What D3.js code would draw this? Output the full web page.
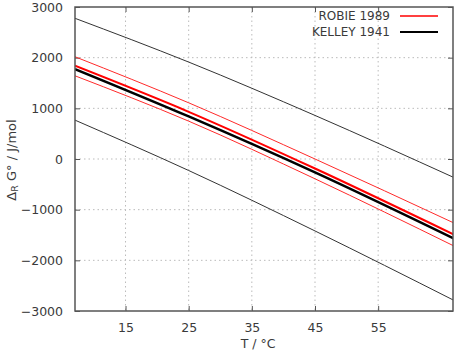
<!DOCTYPE html>
<html>
<head>
<meta charset="utf-8">
<script src="https://cdn.jsdelivr.net/npm/d3@7"></script>
<style>
  body { margin: 0; background: #fff; }
  text { font-family: "DejaVu Sans", sans-serif; fill: #3a3a3a; }
</style>
</head>
<body>
<div id="chart"></div>
<script>
// temperatures (°C) where values were read
var temps = [7, 25, 45, 67];

// ROBIE 1989: central value and its band
var robieMid   = [1840, 931, -188, -1492];
var robieUpper = [2018, 1109, 0, -1263];
var robieLower = [1642, 747, -391, -1717];

// KELLEY 1941: central value and its band
var kelleyMid   = [1775, 840, -265, -1571];
var kelleyUpper = [2777, 1913, 860, -366];
var kelleyLower = [767, -227, -1420, -2790];

var xTicks = [15, 25, 35, 45, 55];
var yTicks = [-3000, -2000, -1000, 0, 1000, 2000, 3000];

var W = 457, H = 353;
var margin = {top: 7, right: 4, bottom: 42, left: 75};
var w = W - margin.left - margin.right;
var h = H - margin.top - margin.bottom;

var svg = d3.select("#chart").append("svg")
    .attr("width", W)
    .attr("height", H);

var g = svg.append("g")
    .attr("transform", "translate(" + margin.left + "," + margin.top + ")");

var x = d3.scaleLinear().domain([7, 66.85]).range([0, w]);
var y = d3.scaleLinear().domain([-3000, 3000]).range([h, 0]);

// grid
g.selectAll(".hgrid").data(yTicks.slice(1, -1)).enter().append("line")
    .attr("x1", 0).attr("x2", w)
    .attr("y1", function(d) { return y(d); })
    .attr("y2", function(d) { return y(d); })
    .attr("stroke", "#bbb").attr("stroke-dasharray", "1.5,3");
g.selectAll(".vgrid").data(xTicks).enter().append("line")
    .attr("y1", 0).attr("y2", h)
    .attr("x1", function(d) { return x(d); })
    .attr("x2", function(d) { return x(d); })
    .attr("stroke", "#bbb").attr("stroke-dasharray", "1.5,3");

// axes, ticks drawn inward and mirrored
var yAxis = d3.axisLeft(y).tickValues(yTicks).tickSize(-5).tickPadding(12)
    .tickFormat(d3.format("d"));
var xAxis = d3.axisBottom(x).tickValues(xTicks).tickSize(-5).tickPadding(12)
    .tickFormat(d3.format("d"));

var ya = g.append("g").call(yAxis);
var xa = g.append("g").attr("transform", "translate(0," + h + ")").call(xAxis);
g.append("g").attr("transform", "translate(" + w + ",0)")
    .call(d3.axisRight(y).tickValues(yTicks).tickSize(-5).tickFormat(""));
g.append("g").call(d3.axisTop(x).tickValues(xTicks).tickSize(-5).tickFormat(""));

g.selectAll(".domain").remove();
g.selectAll(".tick line").attr("stroke", "#555");
[ya, xa].forEach(function(a) {
    a.selectAll("text").style("font-size", "12.5px")
        .style("font-family", "DejaVu Sans, sans-serif").attr("fill", "#3a3a3a");
});

var line = d3.line()
    .x(function(d, i) { return x(temps[i]); })
    .y(function(d) { return y(d); })
    .curve(d3.curveMonotoneX);

var clip = g.append("clipPath").attr("id", "clip")
    .append("rect").attr("width", w).attr("height", h);
var plot = g.append("g").attr("clip-path", "url(#clip)");

plot.append("path").datum(kelleyUpper).attr("d", line)
    .attr("fill", "none").attr("stroke", "#333").attr("stroke-width", 1);
plot.append("path").datum(kelleyLower).attr("d", line)
    .attr("fill", "none").attr("stroke", "#333").attr("stroke-width", 1);
plot.append("path").datum(robieUpper).attr("d", line)
    .attr("fill", "none").attr("stroke", "#ff2a2a").attr("stroke-width", 1);
plot.append("path").datum(robieLower).attr("d", line)
    .attr("fill", "none").attr("stroke", "#ff2a2a").attr("stroke-width", 1);
plot.append("path").datum(kelleyMid).attr("d", line)
    .attr("fill", "none").attr("stroke", "#000").attr("stroke-width", 2.5);
plot.append("path").datum(robieMid).attr("d", line)
    .attr("fill", "none").attr("stroke", "#f00").attr("stroke-width", 2);

// frame
g.append("rect").attr("width", w).attr("height", h)
    .attr("fill", "none").attr("stroke", "#555").attr("stroke-width", 1.5);

// legend
var legend = [
    {name: "ROBIE 1989", color: "#f00", sw: 1.5},
    {name: "KELLEY 1941", color: "#000", sw: 2}
];
var lg = svg.selectAll(".leg").data(legend).enter().append("g")
    .attr("transform", function(d, i) { return "translate(0," + (16 + i * 16) + ")"; });
lg.append("text").attr("x", 390).attr("dy", "0.35em")
    .attr("text-anchor", "end").style("font-size", "12px")
    .text(function(d) { return d.name; });
lg.append("line").attr("x1", 400).attr("x2", 438)
    .attr("stroke", function(d) { return d.color; })
    .attr("stroke-width", function(d) { return d.sw; });

// axis titles
svg.append("text")
    .attr("x", margin.left + x(36)).attr("y", 348)
    .attr("text-anchor", "middle").style("font-size", "12.5px")
    .text("T / °C");

var yl = svg.append("text")
    .attr("text-anchor", "middle").style("font-size", "13px")
    .attr("transform", "translate(16,160)rotate(-90)");
yl.append("tspan").text("Δ");
yl.append("tspan").attr("font-size", "9.5px").attr("dy", "2").text("R");
yl.append("tspan").attr("dy", "-2").text(" G° / J/mol");
</script>
</body>
</html>
